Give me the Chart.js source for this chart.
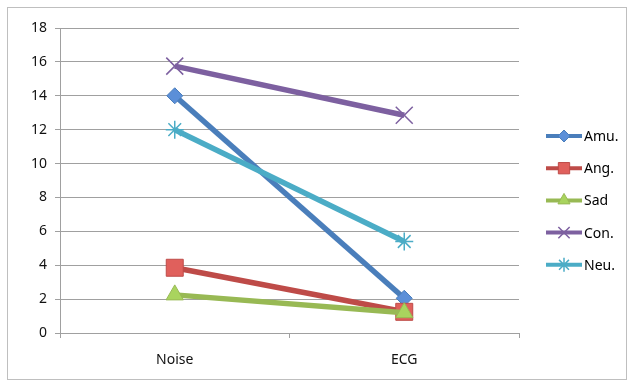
<!DOCTYPE html>
<html>
<head>
<meta charset="utf-8">
<script src="https://cdn.jsdelivr.net/npm/chart.js@4"></script>
<style>
  html, body { margin: 0; padding: 0; background: #fff; }
  #wrap { width: 634px; height: 387px; position: relative; }
</style>
</head>
<body>
<div id="wrap"><canvas id="c" width="634" height="387"></canvas></div>
<script>
// Conditions on the x axis
const categories = ['Noise', 'ECG'];

// Series values per emotion
const amu = [14.0, 2.05];
const ang = [3.85, 1.25];
const sad = [2.25, 1.2];
const con = [15.75, 12.85];
const neu = [12.0, 5.4];

const seriesNames = ['Amu.', 'Ang.', 'Sad', 'Con.', 'Neu.'];
const seriesValues = [amu, ang, sad, con, neu];

// Y tick range
const yMin = 0, yMax = 18, yStep = 2;

const styles = [
  { line: '#4a7ebb', fill: '#5b8fd8', point: 'rectRot', r: 8, lr: 6 },
  { line: '#be4b48', fill: '#e0605c', point: 'rect', r: 12, lr: 8 },
  { line: '#98b954', fill: '#a9d45e', point: 'triangle', r: 10, lr: 7 },
  { line: '#7d60a0', fill: '#7d60a0', point: 'crossRot', r: 12, lr: 8 },
  { line: '#4bacc6', fill: '#4bacc6', point: 'star', r: 9, lr: 7 }
];

const fontFamily = '"Noto Sans", "Open Sans", sans-serif';

const datasets = seriesNames.map((name, i) => {
  const s = styles[i];
  const thin = s.point === 'crossRot' || s.point === 'star';
  return {
    label: name,
    data: seriesValues[i],
    borderColor: s.line,
    backgroundColor: s.fill,
    borderWidth: 5.5,
    pointStyle: s.point,
    pointRadius: s.r,
    pointHoverRadius: s.r,
    pointBackgroundColor: s.fill,
    pointBorderColor: s.line,
    pointBorderWidth: thin ? 1.5 : 1,
    tension: 0,
    order: seriesNames.length - i
  };
});

// Outer frame around the whole chart
const framePlugin = {
  id: 'frame',
  beforeDraw(chart) {
    const ctx = chart.ctx;
    ctx.save();
    ctx.fillStyle = '#fff';
    ctx.fillRect(0, 0, chart.width, chart.height);
    ctx.strokeStyle = '#bfbfbf';
    ctx.lineWidth = 1;
    ctx.strokeRect(7.5, 7.5, 619, 372);
    ctx.restore();
  }
};

// Legend with a line sample and marker for each series
const lineLegend = {
  id: 'lineLegend',
  afterDraw(chart) {
    const ctx = chart.ctx;
    const x0 = 546, x1 = 582, yTop = 136, gap = 32.2;
    ctx.save();
    chart.data.datasets.forEach((ds, i) => {
      const s = styles[i];
      const y = yTop + i * gap;
      ctx.strokeStyle = ds.borderColor;
      ctx.lineWidth = 4;
      ctx.beginPath();
      ctx.moveTo(x0, y);
      ctx.lineTo(x1, y);
      ctx.stroke();
      ctx.fillStyle = ds.pointBackgroundColor;
      ctx.strokeStyle = ds.pointBorderColor;
      ctx.lineWidth = ds.pointBorderWidth;
      Chart.helpers.drawPoint(ctx, { pointStyle: ds.pointStyle, radius: s.lr, rotation: 0, borderWidth: ds.pointBorderWidth }, (x0 + x1) / 2, y);
      ctx.fillStyle = '#000';
      ctx.font = '14px ' + fontFamily;
      ctx.textBaseline = 'middle';
      ctx.textAlign = 'left';
      ctx.fillText(ds.label, x1 + 2, y + 1);
    });
    ctx.restore();
  }
};

new Chart(document.getElementById('c'), {
  type: 'line',
  data: { labels: categories, datasets },
  plugins: [framePlugin, lineLegend],
  options: {
    responsive: false,
    animation: false,
    events: [],
    layout: { padding: { top: 28, right: 115, bottom: 0, left: 0 } },
    plugins: { legend: { display: false }, tooltip: { enabled: false } },
    scales: {
      x: {
        offset: true,
        grid: { display: true, offset: true, drawOnChartArea: false, color: '#a0a0a0', tickLength: 5 },
        border: { display: true, color: '#a0a0a0', width: 1 },
        ticks: { color: '#111', padding: 14, font: { family: fontFamily, size: 14 } },
        afterFit(scale) { scale.height = 54; }
      },
      y: {
        min: yMin,
        max: yMax,
        ticks: { stepSize: yStep, color: '#111', padding: 8, font: { family: fontFamily, size: 14 } },
        grid: { color: '#a0a0a0', lineWidth: 1, tickLength: 5 },
        border: { display: true, color: '#a0a0a0', width: 1 },
        afterFit(scale) { scale.width = 60; }
      }
    }
  }
});
</script>
</body>
</html>
